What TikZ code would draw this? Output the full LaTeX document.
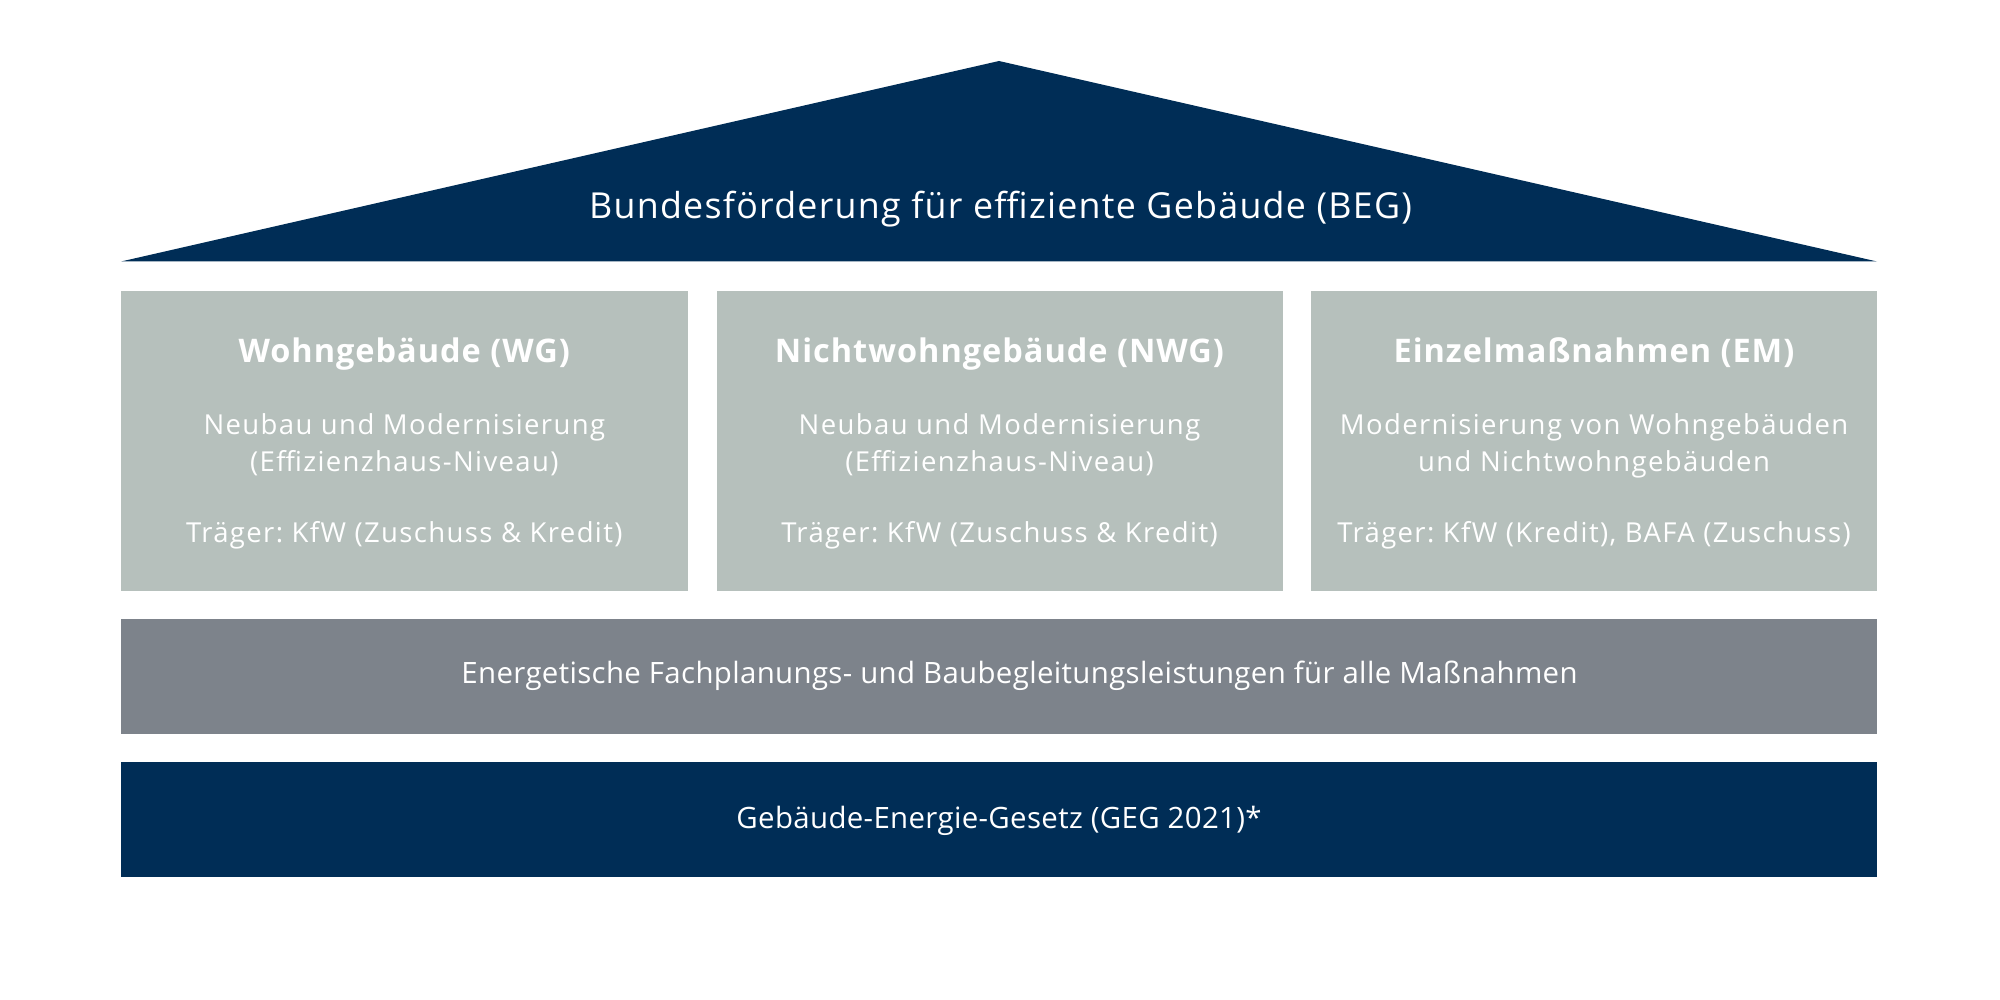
\documentclass[tikz,border=0pt]{standalone}
\usepackage{fontspec}
\setmainfont{Open Sans}
\newfontfamily\roofFont[LetterSpace=3.5]{Open Sans}
\newfontfamily\ttlFont[LetterSpace=3]{Open Sans}
\newfontfamily\bodyFont[LetterSpace=5]{Open Sans}
\newfontfamily\bandFont[LetterSpace=1.2]{Open Sans}
\definecolor{navy}{RGB}{0,45,86}
\definecolor{sage}{RGB}{182,192,188}
\definecolor{slate}{RGB}{125,131,139}
\tikzset{
  panel/.style={fill=sage, draw=none, inner sep=0pt, anchor=north west},
  band/.style={draw=none, inner sep=0pt, anchor=north west},
  wtext/.style={text=white, inner sep=0pt, anchor=base},
  ttl/.style={wtext, font=\ttlFont\fontsize{32.5}{37}\selectfont\bfseries},
  body/.style={wtext, font=\bodyFont\fontsize{27.5}{37}\selectfont},
  bandtext/.style={wtext, font=\bandFont\fontsize{29.4}{35}\selectfont},
}
\begin{document}
\frenchspacing
\begin{tikzpicture}[x=1pt,y=-1pt]
\useasboundingbox (0,0) rectangle (2000,1000);
% roof
\coordinate (apex) at (999,61);
\coordinate (rl) at (121,261.5);
\coordinate (rr) at (1877,261.5);
\fill[navy] (rl) -- (apex) -- (rr) -- cycle;
\node[wtext, font=\roofFont\fontsize{35.8}{42}\selectfont] (roof) at (1000.5,218.5) {Bundesförderung für effiziente Gebäude (BEG)};
% panels
\node[panel, minimum width=566.5pt, minimum height=300pt] (wg) at (121,290.8) {};
\node[panel, minimum width=566pt, minimum height=300pt] (nwg) at (716.5,290.8) {};
\node[panel, minimum width=566pt, minimum height=300pt] (em) at (1311,290.8) {};
% panel texts
\node[ttl] (wgT) at (404.3,362.7) {Wohngebäude (WG)};
\node[body] (wgA) at (404.3,434.3) {Neubau und Modernisierung};
\node[body] (wgB) at (404.3,471.3) {(Effizienzhaus-Niveau)};
\node[body] (wgC) at (404.3,542) {Träger: KfW (Zuschuss \& Kredit)};
\node[ttl] (nwgT) at (999.5,362.7) {Nichtwohngebäude (NWG)};
\node[body] (nwgA) at (999.5,434.3) {Neubau und Modernisierung};
\node[body] (nwgB) at (999.5,471.3) {(Effizienzhaus-Niveau)};
\node[body] (nwgC) at (999.5,542) {Träger: KfW (Zuschuss \& Kredit)};
\node[ttl] (emT) at (1594,362.7) {Einzelmaßnahmen (EM)};
\node[body] (emA) at (1594,434.3) {Modernisierung von Wohngebäuden};
\node[body] (emB) at (1594,471.3) {und Nichtwohngebäuden};
\node[body] (emC) at (1594,542) {Träger: KfW (Kredit), BAFA (Zuschuss)};
% bands
\node[band, fill=slate, minimum width=1756pt, minimum height=115pt] (fach) at (121,618.6) {};
\node[bandtext] (fachT) at (1019.5,683.7) {Energetische Fachplanungs- und Baubegleitungsleistungen für alle Maßnahmen};
\node[band, fill=navy, minimum width=1756pt, minimum height=115pt] (geg) at (121,761.5) {};
\node[bandtext] (gegT) at (999,828) {Gebäude-Energie-Gesetz (GEG 2021)*};
\end{tikzpicture}
\end{document}
